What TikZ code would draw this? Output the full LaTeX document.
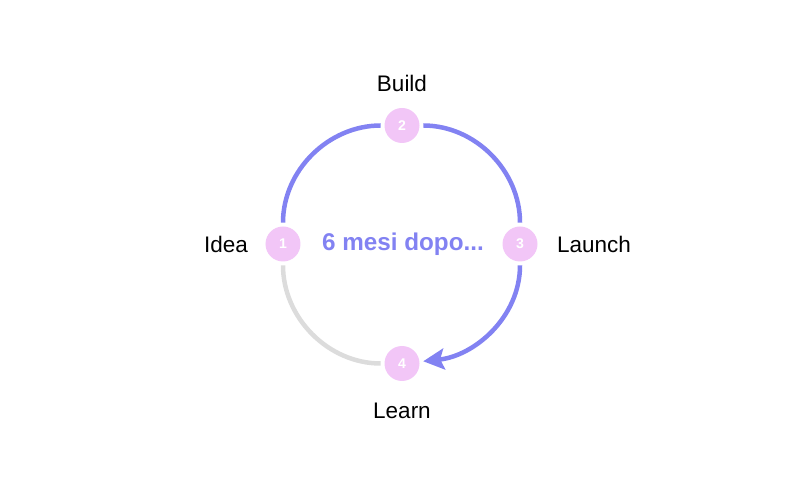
\documentclass[tikz,border=0pt]{standalone}
\usepackage{fontspec}
\setmainfont{Liberation Sans}
\usetikzlibrary{positioning,arrows.meta}
\definecolor{rosa}{HTML}{F2C6F7}
\definecolor{viola}{HTML}{8282F2}
\definecolor{grigio}{HTML}{DCDCDC}
\begin{document}
\begin{tikzpicture}
      \tikzstyle{tappa}=[circle, fill=rosa, text=white, minimum size=0.7cm, inner sep=0pt, font=\fontsize{8}{8}\selectfont\bfseries]
      \tikzstyle{etichetta}=[inner sep=0pt, font=\fontsize{12.8}{14}\selectfont]
      \tikzstyle{arco}=[line width=0.09cm, draw=viola, shorten <=0.07cm, shorten >=0.07cm]
      \tikzstyle{freccia}=[arco, -{Stealth[length=0.42cm, width=0.42cm, inset=0.08cm]}]
      
      \useasboundingbox (-8.04,-4.74) rectangle (7.96,4.88);
      
      \node[tappa] (Idea) at (-2.38,0) {1};
      \node[tappa] (Build) at (0,2.37) {2};
      \node[tappa] (Launch) at (2.36,0) {3};
      \node[tappa] (Learn) at (0,-2.39) {4};
      \node[text=viola, font=\fontsize{13.8}{15}\selectfont\bfseries] (Mesi) at (0.02,0) {6 mesi dopo...};
      
      \node[etichetta, left=0.34cm of Idea] (lIdea) {Idea};
      \node[etichetta, above=0.32cm of Build] (lBuild) {Build};
      \node[etichetta, right=0.38cm of Launch] (lLaunch) {Launch};
      \node[etichetta, below=0.42cm of Learn] (lLearn) {Learn};
      
      \draw[arco] (Idea) to[out=90, in=180] (Build);
      \draw[arco] (Build) to[out=0, in=90] (Launch);
      \draw[freccia] (Launch) to[out=-90, in=6] (Learn);
      \draw[arco, draw=grigio] (Learn) to[out=180, in=-90] (Idea);
      
    \end{tikzpicture}
\end{document}
